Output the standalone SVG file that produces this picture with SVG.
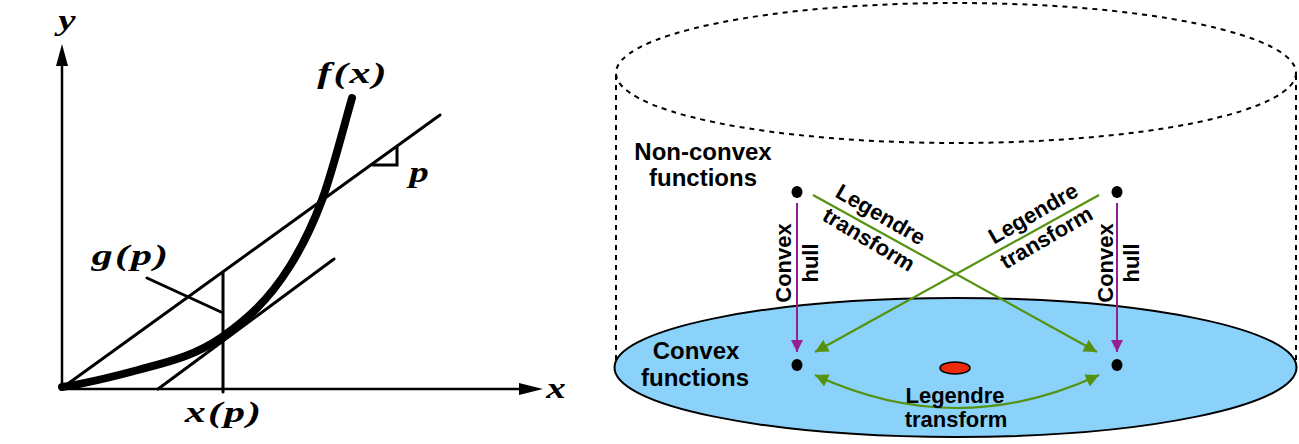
<svg xmlns="http://www.w3.org/2000/svg" width="1299" height="444" viewBox="0 0 1299 444">
<style>
.ax{stroke:#000;stroke-width:2.5;fill:none}
.ln{stroke:#000;stroke-width:3;fill:none;stroke-linecap:round}
.m{font-family:"Liberation Serif",serif;font-style:italic;font-weight:bold;font-size:30px;fill:#000;text-anchor:middle;letter-spacing:1.5px}
.t{font-family:"Liberation Sans",Arial,sans-serif;font-weight:bold;font-size:22px;fill:#000;text-anchor:middle}
.big{font-size:24px}
.dash{stroke:#000;stroke-width:2;fill:none;stroke-dasharray:5,5}
.pur{stroke:#951e95;stroke-width:2;fill:none}
.grn{stroke:#55920f;stroke-width:2.2;fill:none}
.dot{fill:#000}
</style>
<defs>
<marker id="ap" viewBox="0 0 10 10" refX="10" refY="5" markerWidth="6.5" markerHeight="6" orient="auto" markerUnits="strokeWidth"><path d="M0,0L10,5L0,10z" fill="#951e95"/></marker>
<marker id="ag" viewBox="0 0 10 10" refX="10" refY="5" markerWidth="6" markerHeight="6" orient="auto-start-reverse" markerUnits="strokeWidth"><path d="M0,0L10,5L0,10z" fill="#55920f"/></marker>
</defs>
<rect width="1299" height="444" fill="#fff"/>

<g id="plot">
<line class="ax" x1="62" y1="389" x2="62" y2="60"/>
<path d="M62,44L56,66L68,66z" fill="#000"/>
<line class="ax" x1="60" y1="389" x2="525" y2="389"/>
<path d="M543,389L519,383L519,395z" fill="#000"/>
<text class="m" transform="translate(68,30) scale(1.3,1)">y</text>
<text class="m" transform="translate(557,398) scale(1.3,1)">x</text>
<path d="M62,387 C87.3,383.2 112.7,376.8 138,370 C166,362.4 194,356.6 222,337 C244.7,321.1 267.3,302.3 290,266 C300.7,248.9 311.3,228.8 322,200 C332,173 342,133 352,98" stroke="#000" stroke-width="8" fill="none" stroke-linecap="round" stroke-linejoin="round"/>
<line class="ln" x1="62" y1="388" x2="440" y2="115"/>
<path d="M373,165L397,165L397,147" class="ln" stroke-width="2.5"/>
<line class="ln" x1="158" y1="389" x2="334" y2="259"/>
<line class="ln" x1="223" y1="272" x2="223" y2="392" stroke-width="2.5"/>
<line class="ln" x1="147" y1="278" x2="221" y2="312" stroke-width="2.5"/>
<text class="m" transform="translate(353,83) scale(1.4,1)">f(x)</text>
<text class="m" transform="translate(420,182) scale(1.3,1)">p</text>
<text class="m" transform="translate(131,265) scale(1.4,1)">g(p)</text>
<text class="m" transform="translate(224,422) scale(1.4,1)">x(p)</text>
</g>

<g id="cylinder">
<ellipse class="dash" cx="956" cy="73" rx="340" ry="70"/>
<line class="dash" x1="616" y1="75" x2="616" y2="366"/>
<line class="dash" x1="1296" y1="75" x2="1296" y2="366"/>
</g>

<g id="convex-plane">
<ellipse cx="955.5" cy="367.5" rx="341" ry="69.5" fill="#8ad2fa" stroke="#000" stroke-width="2"/>
<ellipse cx="955" cy="368" rx="15" ry="6" fill="#ee2a0c" stroke="#000" stroke-width="1.5"/>
</g>

<g id="nonconvex-left"><ellipse class="dot" cx="797" cy="192" rx="5.5" ry="6"/></g>
<g id="nonconvex-right"><ellipse class="dot" cx="1117" cy="192" rx="5.5" ry="6"/></g>
<g id="convex-left"><ellipse class="dot" cx="797" cy="365" rx="5.5" ry="6"/></g>
<g id="convex-right"><ellipse class="dot" cx="1117" cy="365" rx="5.5" ry="6"/></g>

<g id="connectors">
<line class="pur" x1="797" y1="203" x2="797" y2="352" marker-end="url(#ap)"/>
<line class="pur" x1="1117" y1="203" x2="1117" y2="352" marker-end="url(#ap)"/>
<line class="grn" x1="813" y1="195" x2="1097" y2="352" marker-end="url(#ag)"/>
<line class="grn" x1="1099" y1="195" x2="815" y2="352" marker-end="url(#ag)"/>
<path class="grn" d="M815,375 Q957,441 1099,375" marker-start="url(#ag)" marker-end="url(#ag)"/>
</g>

<g id="labels">
<text class="t big" x="703" y="160">Non-convex</text>
<text class="t big" x="703" y="186">functions</text>
<text class="t big" x="696" y="359">Convex</text>
<text class="t big" x="695" y="386">functions</text>
<text class="t" x="955" y="403">Legendre</text>
<text class="t" x="956" y="427">transform</text>
<text class="t" transform="translate(791,263) rotate(-90)">Convex</text>
<text class="t" transform="translate(818,263) rotate(-90)">hull</text>
<text class="t" transform="translate(1113,263) rotate(-90)">Convex</text>
<text class="t" transform="translate(1139,263) rotate(-90)">hull</text>
<text class="t" transform="translate(877,221) rotate(30)">Legendre</text>
<text class="t" transform="translate(865,246) rotate(31)">transform</text>
<text class="t" transform="translate(1037,220) rotate(-30)">Legendre</text>
<text class="t" transform="translate(1050,244) rotate(-30)">transform</text>
</g>
</svg>
